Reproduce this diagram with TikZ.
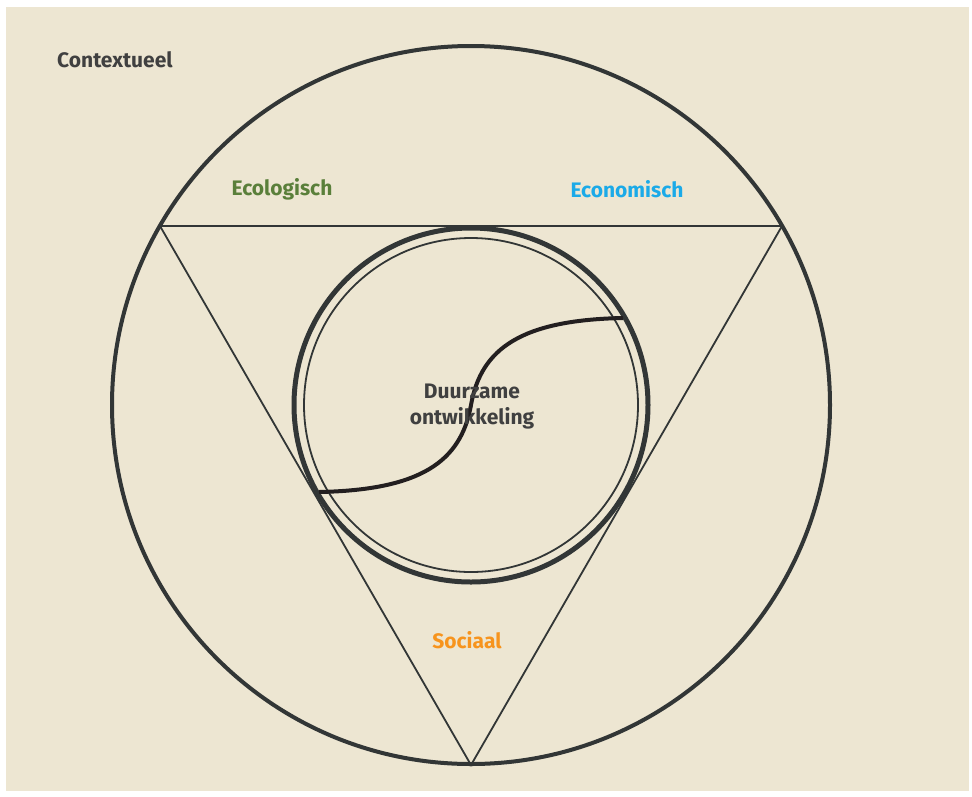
\documentclass[tikz,border=0pt]{standalone}
\usepackage{fontspec}
\setmainfont{Fira Sans}
\usetikzlibrary{calc}
\definecolor{paper}{HTML}{EDE6D2}
\definecolor{ink}{HTML}{323636}
\definecolor{curveink}{HTML}{231F20}
\definecolor{txtgray}{HTML}{404040}
\definecolor{ecogreen}{HTML}{5A7F3A}
\definecolor{ecoblue}{HTML}{1BAAE8}
\definecolor{socorange}{HTML}{F7941D}
\tikzset{
  ring/.style={draw=ink,line width=4pt},
  innerring/.style={draw=ink,line width=5pt},
  thinring/.style={draw=ink,line width=1.8pt},
  side/.style={draw=ink,line width=1.8pt,line join=miter},
  swirl/.style={draw=curveink,line width=4pt},
  lab/.style={font=\fontsize{21}{23}\selectfont\bfseries,inner sep=0pt}
}
\begin{document}
\begin{tikzpicture}[x=1pt,y=-1pt]
  \useasboundingbox (0,0) rectangle (972,796);
  \fill[paper] (6,7) rectangle (969,791);

  %--- Centre and triangle corners --------------------------------------------
  \coordinate (O) at (471,405);
  \coordinate (TL) at (160,226);
  \coordinate (TR) at (782,226);
  \coordinate (BT) at (471,765);

  %--- Outer circle and triangle ----------------------------------------------
  \draw[ring] (O) circle[radius=359pt];
  \draw[side] (TL) -- (TR) -- (BT) -- cycle;

  %--- Inner double circle ----------------------------------------------------
  \draw[innerring] (O) circle[radius=177pt];
  \draw[thinring] (O) circle[radius=167pt];

  %--- S-curve through the middle ---------------------------------------------
  \coordinate (SL) at (319,492);
  \coordinate (SR) at (623,318);
  \draw[swirl] (SL) .. controls (420,490) and (461,462) .. (O)
               .. controls (481,348) and (522,320) .. (SR);

  %--- Labels -----------------------------------------------------------------
  \node[lab,text=txtgray,anchor=west] (ctx) at (57,60) {Contextueel};
  \node[lab,text=ecogreen] (eco) at (282,189) {Ecologisch};
  \node[lab,text=ecoblue] (ecn) at (627,189) {Economisch};
  \node[lab,text=socorange] (soc) at (467,640) {Sociaal};
  \node[lab,text=txtgray,align=center,font=\fontsize{21}{26}\selectfont\bfseries]
       (dur) at (472,407) {Duurzame\\ontwikkeling};
\end{tikzpicture}
\end{document}
